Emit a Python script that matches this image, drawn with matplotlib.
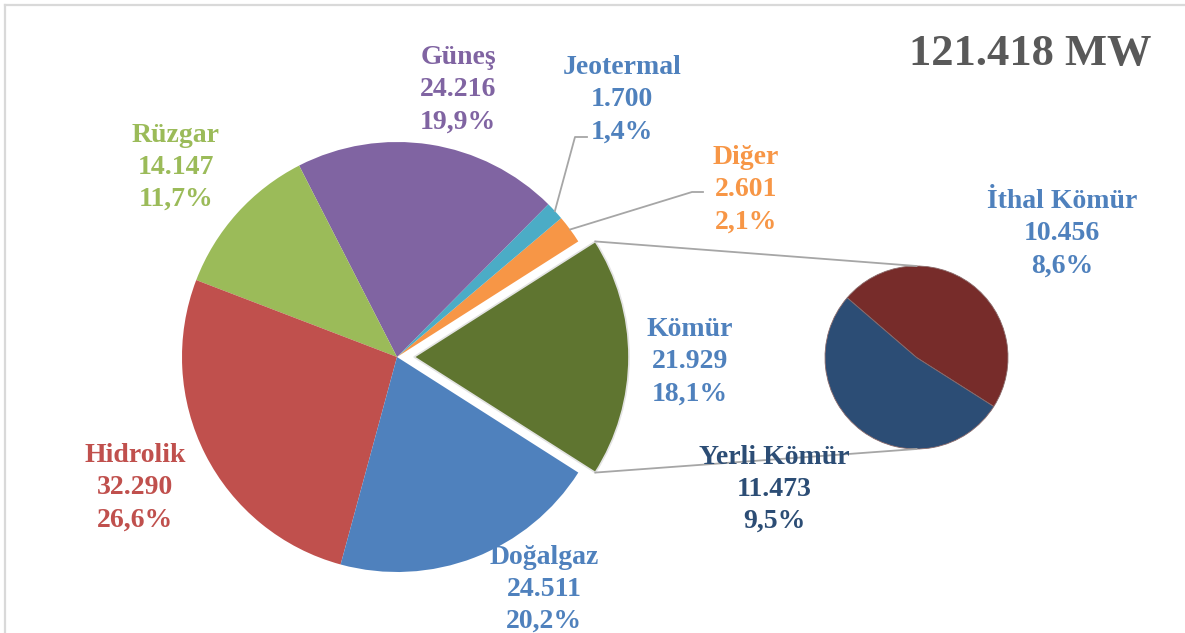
import matplotlib
matplotlib.use('Agg')
import matplotlib.pyplot as plt
import numpy as np

W, H = 1185, 633

# ana pasta (Kömür ayrik dilim)
kaynaklar = ['Kömür', 'Diğer', 'Jeotermal', 'Güneş', 'Rüzgar', 'Hidrolik', 'Doğalgaz']
degerler = [21.929, 2.601, 1.700, 24.216, 14.147, 32.290, 24.511]
yuzdeler = ['18,1%', '2,1%', '1,4%', '19,9%', '11,7%', '26,6%', '20,2%']

# Kömür kirilimi (ikinci pasta)
komur_alt = ['İthal Kömür', 'Yerli Kömür']
komur_deger = [10.456, 11.473]
komur_yuzde = ['8,6%', '9,5%']

toplam = '121.418 MW'

# renkler
renkler = ['#5F7530', '#F79646', '#4BACC6', '#8064A2', '#9BBB59', '#C0504D', '#4F81BD']
yazi_renk = ['#4F81BD', '#F79646', '#4F81BD', '#8064A2', '#9BBB59', '#C0504D', '#4F81BD']
komur_renk = ['#772C2A', '#2C4D75']
komur_yazi = ['#4F81BD', '#2C4D75']

# etiket yerleri (piksel, orta satirin merkezi)
yer = {'Kömür': (690, 359), 'Diğer': (746, 187), 'Jeotermal': (622, 97),
       'Güneş': (458, 87), 'Rüzgar': (176, 164), 'Hidrolik': (135, 485),
       'Doğalgaz': (544, 586), 'İthal Kömür': (1062, 231), 'Yerli Kömür': (774, 486)}

gri = '#A6A6A6'
font = 'Liberation Serif'

fig = plt.figure(figsize=(W / 100, H / 100), dpi=100)
ax = fig.add_axes([0, 0, 1, 1])

# ana pasta
kom_aci = 360.0 * degerler[0] / sum(degerler)
dilimler, _ = ax.pie(degerler, colors=renkler, startangle=-kom_aci / 2,
                     center=(397, H - 357), radius=215,
                     explode=[17, 0, 0, 0, 0, 0, 0],
                     wedgeprops=dict(linewidth=0))
dilimler[0].set_edgecolor('#E3E3E3')
dilimler[0].set_linewidth(1.2)

# ikinci pasta
ikinci, _ = ax.pie(komur_deger, colors=komur_renk, startangle=-32.4,
                   center=(916.5, H - 357.5), radius=91.5,
                   wedgeprops=dict(linewidth=0.6, edgecolor='#8a6a6a'))

# baglanti cizgileri
k = dilimler[0]
cx, cy = k.center
for aci, hedef in [(k.theta2, 1), (k.theta1, -1)]:
    x0 = cx + k.r * np.cos(np.radians(aci))
    y0 = cy + k.r * np.sin(np.radians(aci))
    ax.plot([x0, 916.5], [y0, H - 357.5 + hedef * 91.5], color=gri, lw=1.3, zorder=1)

# Jeotermal ve Diğer icin kilavuz cizgiler
kilavuz = {'Jeotermal': [(575, 137), (587, 137)], 'Diğer': [(692, 192), (703, 192)]}
for ad, noktalar in kilavuz.items():
    w = dilimler[kaynaklar.index(ad)]
    orta = np.radians((w.theta1 + w.theta2) / 2)
    xs = [w.center[0] + w.r * np.cos(orta)] + [p[0] for p in noktalar]
    ys = [w.center[1] + w.r * np.sin(orta)] + [H - p[1] for p in noktalar]
    ax.plot(xs, ys, color=gri, lw=1.3, zorder=3)


def etiket(x, y, satirlar, renk):
    for i, s in enumerate(satirlar):
        ax.text(x, H - (y + (i - 1) * 32 + 9.5), s, ha='center', va='baseline',
                color=renk, fontsize=20, fontweight='bold', family=font, zorder=5)


for ad, v, p, r in zip(kaynaklar, degerler, yuzdeler, yazi_renk):
    etiket(yer[ad][0], yer[ad][1], [ad, f'{v:.3f}', p], r)
for ad, v, p, r in zip(komur_alt, komur_deger, komur_yuzde, komur_yazi):
    etiket(yer[ad][0], yer[ad][1], [ad, f'{v:.3f}', p], r)

ax.text(1030, H - 65, toplam, ha='center', va='baseline', fontsize=32,
        fontweight='bold', color='#595959', family=font)

# cerceve
ax.plot([5, W], [H - 5, H - 5], color='#D9D9D9', lw=1.6)
ax.plot([5, 5], [H - 5, 0], color='#D9D9D9', lw=1.6)

ax.set_xlim(0, W)
ax.set_ylim(0, H)
ax.set_aspect('equal')
ax.axis('off')

fig.savefig('out.png', dpi=100, facecolor='white')
